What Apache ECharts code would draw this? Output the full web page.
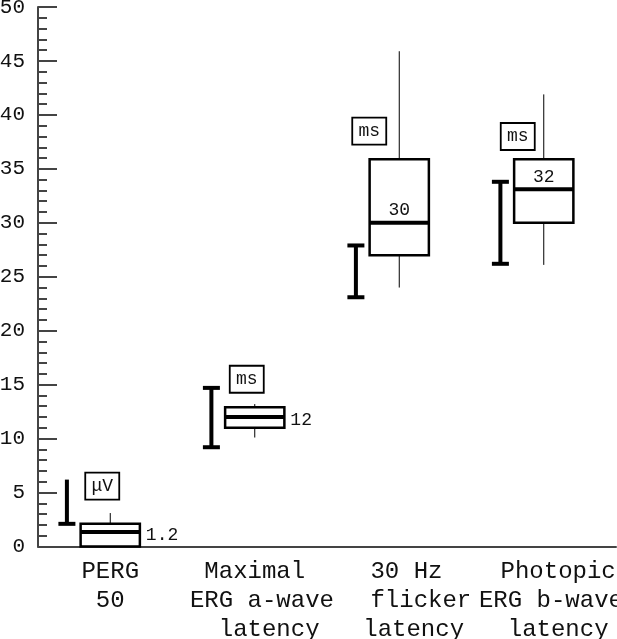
<!DOCTYPE html>
<html><head><meta charset="utf-8">
<script src="https://cdn.jsdelivr.net/npm/echarts@6/dist/echarts.min.js"></script>
<style>html,body{margin:0;padding:0;background:#fff}#c{width:617px;height:639px}</style>
</head><body><div id="c"></div>
<script>
// ---- data ----
const categories = ['PERG\n50', 'Maximal\n ERG a-wave\n  latency', ' 30 Hz\n   flicker\n  latency', '  Photopic\n ERG b-wave\n  latency'];
const yTicks = [0, 5, 10, 15, 20, 25, 30, 35, 40, 45, 50];
const boxMin    = [0,    10.1, 24.0, 26.1];
const boxQ1     = [0,    11.0, 27.0, 30.0];
const boxMedian = [1.35, 12.0, 30.0, 33.1];
const boxQ3     = [2.1,  12.9, 35.9, 35.9];
const boxMax    = [3.1,  13.2, 45.9, 41.9];
const medianLabels = ['1.2', '12', '30', '32'];
const normalLow  = [2.1, 9.2, 23.1, 26.2];
const normalHigh = [6.2, 14.7, 27.9, 33.8];
const normalTopCap = [0, 1, 1, 1];
const units = ['μV', 'ms', 'ms', 'ms'];
const unitLevel = [5.6, 15.5, 38.5, 38.0];

// ---- presentation config ----
const labelPlacement = ['right', 'right', 'top', 'top'];
const unitDx = [-8, -8, -30, -26];
const FONT = "'Liberation Mono', 'DejaVu Sans Mono', monospace";

const boxData = categories.map((c, i) => [i, boxMin[i], boxQ1[i], boxMedian[i], boxQ3[i], boxMax[i]]);
const normalData = categories.map((c, i) => [i, normalLow[i], normalHigh[i], normalTopCap[i]]);
const unitData = categories.map((c, i) => [i, unitLevel[i]]);

const chart = echarts.init(document.getElementById('c'));
chart.setOption({
  animation: false,
  backgroundColor: '#fff',
  grid: { left: 38, right: 1, top: 7, bottom: 92.5, containLabel: false, outerBoundsMode: 'none' },
  xAxis: {
    type: 'category', data: categories, boundaryGap: true,
    axisLine: { lineStyle: { color: '#444', width: 2 } },
    axisTick: { inside: true, length: 19, lineStyle: { color: '#444', width: 2 } },
    axisLabel: { margin: 11, fontFamily: FONT, fontSize: 24, lineHeight: 29, color: '#111', interval: 0 },
    splitLine: { show: false }
  },
  yAxis: {
    type: 'value', min: yTicks[0], max: yTicks[yTicks.length - 1], interval: 5,
    axisLine: { show: true, lineStyle: { color: '#444', width: 2 } },
    axisTick: { show: true, inside: true, length: 19, lineStyle: { color: '#444', width: 2 } },
    minorTick: { show: true, splitNumber: 5, length: 9, lineStyle: { color: '#444', width: 2 } },
    axisLabel: { margin: 13, fontFamily: FONT, fontSize: 21, color: '#111' },
    splitLine: { show: false }
  },
  series: [
    {
      type: 'custom', data: normalData, encode: { x: 0, y: [1, 2] },
      renderItem: function (params, api) {
        const i = api.value(0);
        const bw = api.size([1, 0])[0];
        const x = api.coord([i, 0])[0] - bw * 0.30;
        const yl = api.coord([i, api.value(1)])[1];
        const yh = api.coord([i, api.value(2)])[1];
        const ch = 8.5;
        const st = { stroke: '#000', lineWidth: 4 };
        const kids = [
          { type: 'line', shape: { x1: x, y1: yh, x2: x, y2: yl }, style: st },
          { type: 'line', shape: { x1: x - ch, y1: yl, x2: x + ch, y2: yl }, style: st }
        ];
        if (api.value(3)) kids.push({ type: 'line', shape: { x1: x - ch, y1: yh, x2: x + ch, y2: yh }, style: st });
        return { type: 'group', children: kids };
      }
    },
    {
      type: 'custom', data: boxData, encode: { x: 0, y: [1, 2, 3, 4, 5] },
      renderItem: function (params, api) {
        const i = api.value(0);
        const bw = api.size([1, 0])[0];
        const half = bw * 0.205;
        const x = api.coord([i, 0])[0];
        const yMin = api.coord([i, api.value(1)])[1];
        const yQ1 = api.coord([i, api.value(2)])[1];
        const yMed = api.coord([i, api.value(3)])[1];
        const yQ3 = api.coord([i, api.value(4)])[1];
        const yMax = api.coord([i, api.value(5)])[1];
        const kids = [];
        kids.push({ type: 'line', shape: { x1: x, y1: yMax, x2: x, y2: yQ3 }, style: { stroke: '#000', lineWidth: 1 } });
        if (yMin - yQ1 > 0.5) kids.push({ type: 'line', shape: { x1: x, y1: yQ1, x2: x, y2: yMin }, style: { stroke: '#000', lineWidth: 1 } });
        kids.push({ type: 'rect', shape: { x: x - half, y: yQ3, width: 2 * half, height: yQ1 - yQ3 }, style: { fill: '#fff', stroke: '#000', lineWidth: 2.5 } });
        kids.push({ type: 'line', shape: { x1: x - half, y1: yMed, x2: x + half, y2: yMed }, style: { stroke: '#000', lineWidth: 4 } });
        const pl = labelPlacement[params.dataIndex];
        const txt = medianLabels[params.dataIndex];
        if (pl === 'right') {
          kids.push({ type: 'text', style: { text: txt, x: x + half + 6, y: yMed + 3.5, align: 'left', verticalAlign: 'middle', fontSize: 18, fontFamily: FONT, fill: '#111' } });
        } else {
          kids.push({ type: 'text', style: { text: txt, x: x, y: yMed - 12.5, align: 'center', verticalAlign: 'middle', fontSize: 18, fontFamily: FONT, fill: '#111' } });
        }
        return { type: 'group', children: kids };
      }
    },
    {
      type: 'custom', data: unitData, encode: { x: 0, y: 1 },
      renderItem: function (params, api) {
        const i = api.value(0);
        const x = api.coord([i, 0])[0] + unitDx[params.dataIndex];
        const y = api.coord([i, api.value(1)])[1];
        return { type: 'group', children: [
          { type: 'rect', shape: { x: x - 17, y: y - 13.5, width: 34, height: 27 }, style: { fill: '#fff', stroke: '#000', lineWidth: 1.8 } },
          { type: 'text', style: { text: units[params.dataIndex], x: x, y: y, align: 'center', verticalAlign: 'middle', fontSize: 18, fontFamily: FONT, fill: '#111' } }
        ] };
      }
    }
  ]
});
</script></body></html>
